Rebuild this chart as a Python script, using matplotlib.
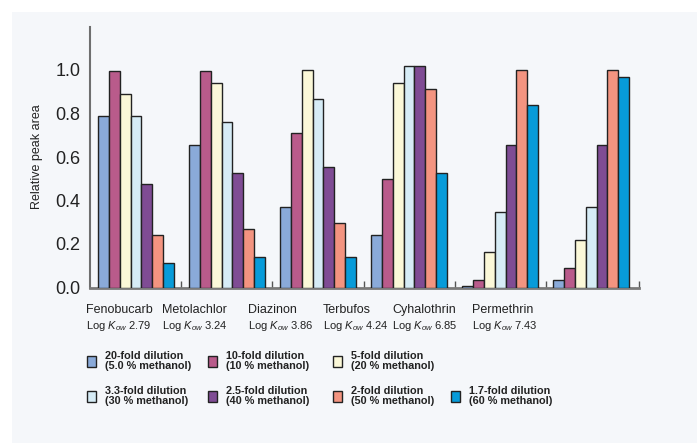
import numpy as np
import matplotlib
matplotlib.use('Agg')
import matplotlib.pyplot as plt
from matplotlib.patches import Rectangle

plt.rcParams['font.family'] = ['Liberation Sans', 'DejaVu Sans']
plt.rcParams['mathtext.fontset'] = 'custom'
plt.rcParams['mathtext.it'] = 'Liberation Sans:italic'
plt.rcParams['mathtext.rm'] = 'Liberation Sans'

# data
compounds = ['Fenobucarb', 'Metolachlor', 'Diazinon', 'Terbufos', 'Cyhalothrin', 'Permethrin']
log_kow = ['2.79', '3.24', '3.86', '4.24', '6.85', '7.43']
dilutions = ['20-fold dilution\n(5.0 % methanol)', '10-fold dilution\n(10 % methanol)',
             '5-fold dilution\n(20 % methanol)', '3.3-fold dilution\n(30 % methanol)',
             '2.5-fold dilution\n(40 % methanol)', '2-fold dilution\n(50 % methanol)',
             '1.7-fold dilution\n(60 % methanol)']
fold20 = [0.787, 0.655, 0.371, 0.243, 0.005, 0.036]
fold10 = [0.994, 0.994, 0.709, 0.500, 0.036, 0.090]
fold5 = [0.890, 0.942, 1.000, 0.940, 0.165, 0.218]
fold3_3 = [0.787, 0.760, 0.865, 1.017, 0.347, 0.371]
fold2_5 = [0.477, 0.528, 0.553, 1.017, 0.657, 0.657]
fold2 = [0.242, 0.269, 0.295, 0.914, 1.000, 1.000]
fold1_7 = [0.113, 0.140, 0.140, 0.528, 0.838, 0.966]
series = [fold20, fold10, fold5, fold3_3, fold2_5, fold2, fold1_7]
colors = ['#8aaad9', '#b95b8b', '#fbf8d8', '#d6ecf6', '#7f4c94', '#f39480', '#079bd9']

W, H = 697, 443
fig = plt.figure(figsize=(W/100, H/100), dpi=100)
fig.patch.set_facecolor('white')
panel = '#f5f7fa'
fig.patches.append(Rectangle((12/W, 0), 1, 1 - 12/H, transform=fig.transFigure,
                             facecolor=panel, edgecolor='none', zorder=-10))

ax = fig.add_axes([90/W, 1 - 287.5/H, (639.3 - 90)/W, 261/H])
ax.set_facecolor(panel)

x = np.arange(len(compounds))
bw = 0.12
for i, vals in enumerate(series):
    ax.bar(x - 3*bw + i*bw, vals, bw, color=colors[i], edgecolor='#222222',
           linewidth=1.0, zorder=3)

ax.set_xlim(-0.505, 5.53)
ax.set_ylim(0, 1.2)
ax.set_yticks(np.arange(0, 1.01, 0.2))
ax.set_yticklabels(['%.1f' % v for v in np.arange(0, 1.01, 0.2)], fontsize=13, color='#222222')
ax.tick_params(axis='y', length=0, pad=7)
ax.set_xticks([0.5, 1.5, 2.5, 3.5, 4.5, 5.53])
ax.set_xticklabels([])
ax.tick_params(axis='x', direction='in', length=5, width=1, color='#555555')
for s in ['top', 'right']:
    ax.spines[s].set_visible(False)
ax.spines['left'].set_color('#6f6f6f')
ax.spines['left'].set_linewidth(1.5)
ax.spines['bottom'].set_color('#7a7a7a')
ax.spines['bottom'].set_linewidth(2)
ax.set_ylabel('Relative peak area', fontsize=9, labelpad=9, color='#222222')

# category labels (left aligned, pixel positions from the original layout)
label_x = [86, 162, 248, 323, 392, 472]
for lx, name, k in zip(label_x, compounds, log_kow):
    fig.text(lx/W, 1 - 310/H, name, fontsize=9, ha='left', va='center', color='#222222')
    fig.text(lx/W, 1 - 326/H, r'Log $K_{ow}$ ' + k, fontsize=8, ha='left', va='center',
             color='#222222')

# legend drawn by hand: row 1 three entries, row 2 four entries
col_x = [91, 212, 337, 455]
row_y = [361, 396]
for i, (lab, c) in enumerate(zip(dilutions, colors)):
    if i < 3:
        cx, cy = col_x[i], row_y[0]
    else:
        cx, cy = col_x[i - 3], row_y[1]
    fig.patches.append(Rectangle(((cx - 4.5)/W, 1 - (cy + 5.5)/H), 9/W, 11/H,
                                 transform=fig.transFigure, facecolor=c,
                                 edgecolor='#222222', linewidth=1.0))
    fig.text((cx + 14)/W, 1 - cy/H, lab, fontsize=7.8, fontweight='bold', ha='left',
             va='center', linespacing=1.05, color='#222222')

fig.savefig('out.png', dpi=100, facecolor='white')
